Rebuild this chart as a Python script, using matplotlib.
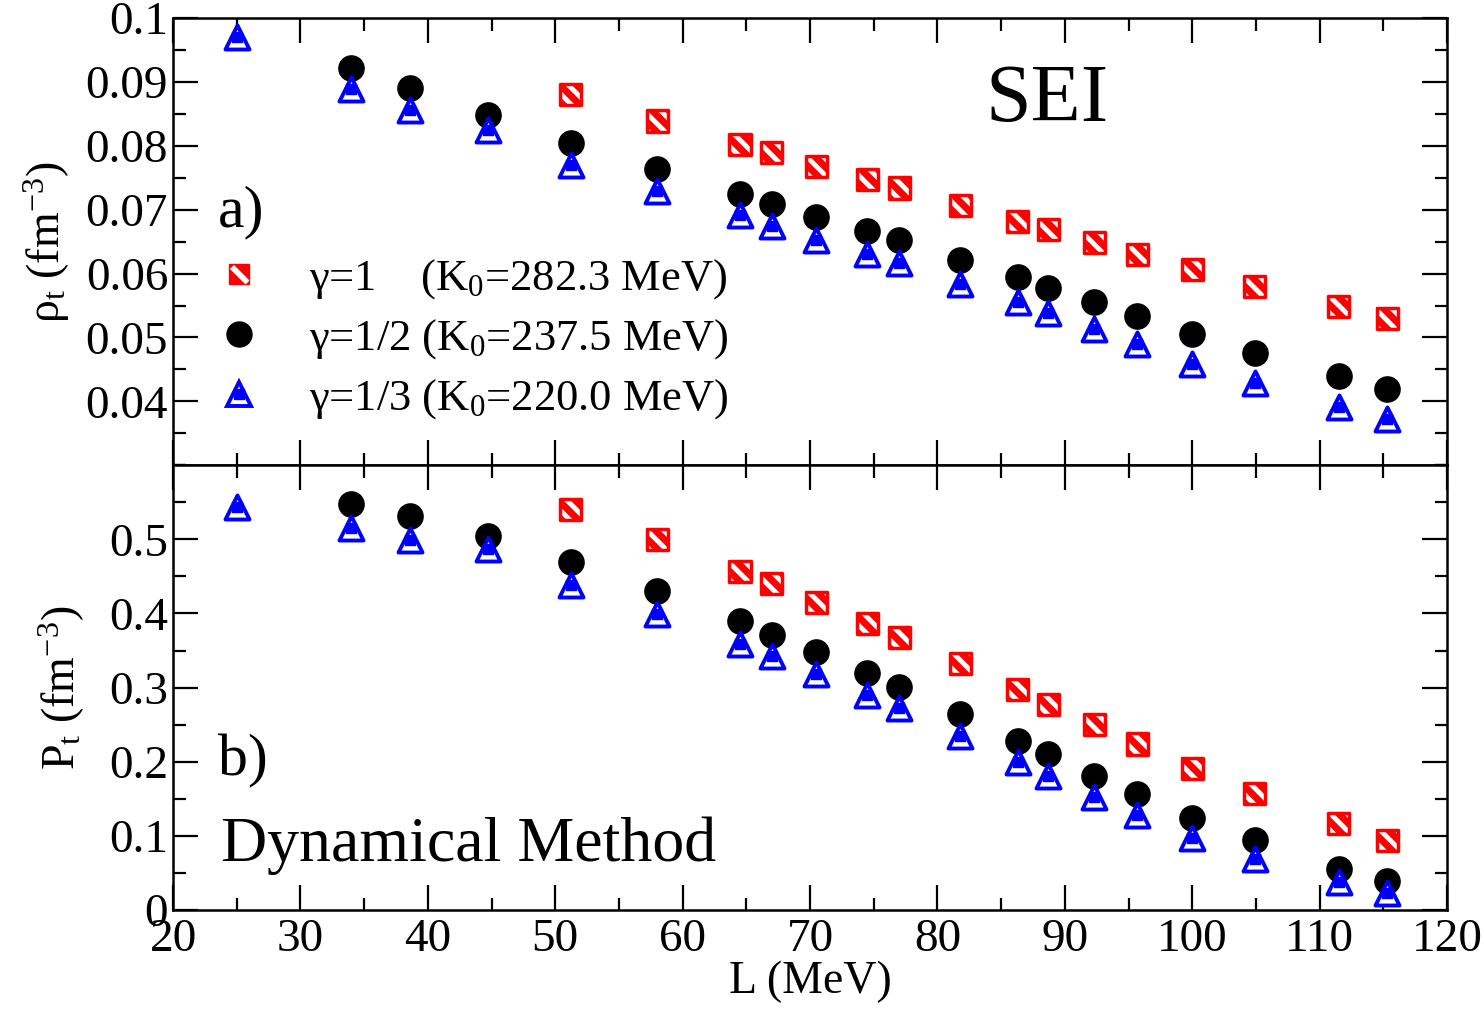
import numpy as np
import matplotlib.pyplot as plt
from matplotlib.ticker import MultipleLocator

plt.rcParams['font.family'] = ['Liberation Serif', 'DejaVu Serif']
plt.rcParams['mathtext.fontset'] = 'custom'
plt.rcParams['mathtext.rm'] = 'Liberation Serif'
plt.rcParams['mathtext.it'] = 'Liberation Serif:italic'
plt.rcParams['hatch.linewidth'] = 3.5

# slope parameter L (MeV) for every model
L_all = [25.0, 34.0, 38.6, 44.7, 51.2, 58.0, 64.5, 67.0, 70.5, 74.5, 77.0,
         81.8, 86.3, 88.7, 92.3, 95.7, 100.0, 104.9, 111.5, 115.3]
L_g1 = L_all[4:]
L_g2 = L_all[1:]
L_g3 = L_all

# a) transition density rho_t (fm^-3)
rho_g1 = [0.0880, 0.0839, 0.0802, 0.0789, 0.0767, 0.0747, 0.0734, 0.0706, 0.0681,
          0.0669, 0.0648, 0.0630, 0.0606, 0.0580, 0.0548, 0.0530]
rho_g2 = [0.0922, 0.0891, 0.0848, 0.0805, 0.0764, 0.0725, 0.0709, 0.0689, 0.0666,
          0.0652, 0.0622, 0.0594, 0.0578, 0.0556, 0.0534, 0.0505, 0.0475, 0.0439, 0.0420]
rho_g3 = [0.0970, 0.0889, 0.0856, 0.0825, 0.0770, 0.0730, 0.0691, 0.0675, 0.0653,
          0.0630, 0.0616, 0.0583, 0.0555, 0.0538, 0.0513, 0.0489, 0.0458, 0.0428,
          0.0391, 0.0372]

# b) transition pressure P_t
P_g1 = [0.540, 0.500, 0.457, 0.441, 0.415, 0.386, 0.368, 0.332, 0.297, 0.277,
        0.250, 0.224, 0.191, 0.157, 0.117, 0.094]
P_g2 = [0.548, 0.532, 0.504, 0.469, 0.430, 0.390, 0.371, 0.348, 0.320, 0.301,
        0.265, 0.228, 0.210, 0.181, 0.157, 0.124, 0.094, 0.056, 0.039]
P_g3 = [0.544, 0.515, 0.499, 0.487, 0.438, 0.399, 0.359, 0.343, 0.319, 0.290,
        0.273, 0.235, 0.200, 0.181, 0.153, 0.128, 0.097, 0.069, 0.038, 0.023]

labels = [u'\u03b3=1    (K$_\\mathrm{0}$=282.3 MeV)',
          u'\u03b3=1/2 (K$_\\mathrm{0}$=237.5 MeV)',
          u'\u03b3=1/3 (K$_\\mathrm{0}$=220.0 MeV)']

fig = plt.figure(figsize=(14.84, 10.09), dpi=100)
ax1 = fig.add_axes([0.1166, 0.539, 0.8585, 0.443])
ax2 = fig.add_axes([0.1166, 0.098, 0.8585, 0.441], sharex=ax1)


def draw(ax, y1, y2, y3):
    # red square: solid red with white hatch stripes
    ax.scatter(L_g1, y1, marker='s', s=230, color='red', linewidths=0, zorder=3)
    ax.scatter(L_g1, y1, marker='s', s=230, facecolor='none', edgecolor='white',
               linewidths=0, hatch='\\\\', zorder=3)
    ax.scatter(L_g1, y1, marker='s', s=230, facecolor='none', edgecolor='red',
               linewidths=2.5, zorder=3)
    ax.scatter(L_g2, y2, marker='o', s=330, color='black', zorder=3)
    ax.scatter(L_g3, y3, marker='^', s=300, facecolor='white', edgecolor='blue',
               linewidths=2.8, zorder=4)
    ax.scatter(L_g3, y3, marker='s', s=60, color='blue', zorder=5)
    h1 = plt.Line2D([], [], marker='s', ms=15, color='red', ls='none')
    h1b = plt.Line2D([], [], marker=[(-0.6, 0.9), (0.9, -0.6), (0.6, -0.9), (-0.9, 0.6)],
                     ms=13, color='white', ls='none')
    h2 = plt.Line2D([], [], marker='o', ms=18, color='black', ls='none')
    h3a = plt.Line2D([], [], marker='^', ms=17, mfc='white', mec='blue', mew=2.8, ls='none')
    h3b = plt.Line2D([], [], marker='s', ms=7.5, color='blue', ls='none')
    return [(h1, h1b), h2, (h3a, h3b)]


handles = draw(ax1, rho_g1, rho_g2, rho_g3)
draw(ax2, P_g1, P_g2, P_g3)

for ax in (ax1, ax2):
    ax.tick_params(which='both', direction='in', top=True, right=True,
                   labelsize=34, width=1.6)
    ax.tick_params(which='major', length=18)
    ax.tick_params(which='minor', length=9)
    ax.xaxis.set_major_locator(MultipleLocator(10))
    ax.xaxis.set_minor_locator(MultipleLocator(5))
    for sp in ax.spines.values():
        sp.set_linewidth(1.8)

ax1.set_xlim(20, 120)
ax1.set_ylim(0.03, 0.1)
ax1.yaxis.set_minor_locator(MultipleLocator(0.005))
ax1.set_yticks([0.04, 0.05, 0.06, 0.07, 0.08, 0.09, 0.1])
ax1.set_yticklabels(['0.04', '0.05', '0.06', '0.07', '0.08', '0.09', '0.1'])
ax1.tick_params(labelbottom=False)

ax2.set_ylim(0, 0.6)
ax2.set_yticks([0, 0.1, 0.2, 0.3, 0.4, 0.5])
ax2.set_yticklabels(['0', '0.1', '0.2', '0.3', '0.4', '0.5'])
ax2.yaxis.set_minor_locator(MultipleLocator(0.05))
ax2.set_xticks([20, 30, 40, 50, 60, 70, 80, 90, 100, 110, 120])
ax2.tick_params(axis='x', pad=6)

ax1.set_ylabel(u'\u03c1$_\\mathrm{t}$ (fm$^\\mathrm{-3}$)', fontsize=33, labelpad=10)
ax2.set_ylabel(u'P$_\\mathrm{t}$ (fm$^\\mathrm{-3}$)', fontsize=33, labelpad=16)
ax2.set_xlabel('L (MeV)', fontsize=33, labelpad=0)

ax1.legend(handles, labels, loc='upper left', bbox_to_anchor=(0.02, 0.505),
           frameon=False, fontsize=32, handlelength=1.0, handletextpad=1.08,
           labelspacing=0.36, borderaxespad=0.0)

ax1.text(0.035, 0.565, 'a)', transform=ax1.transAxes, fontsize=43, va='center')
ax1.text(0.638, 0.815, 'SEI', transform=ax1.transAxes, fontsize=59, va='center')
ax2.text(0.035, 0.335, 'b)', transform=ax2.transAxes, fontsize=43, va='center')
ax2.text(0.038, 0.145, 'Dynamical Method', transform=ax2.transAxes, fontsize=46, va='center')

fig.savefig('out.png', dpi=100)
